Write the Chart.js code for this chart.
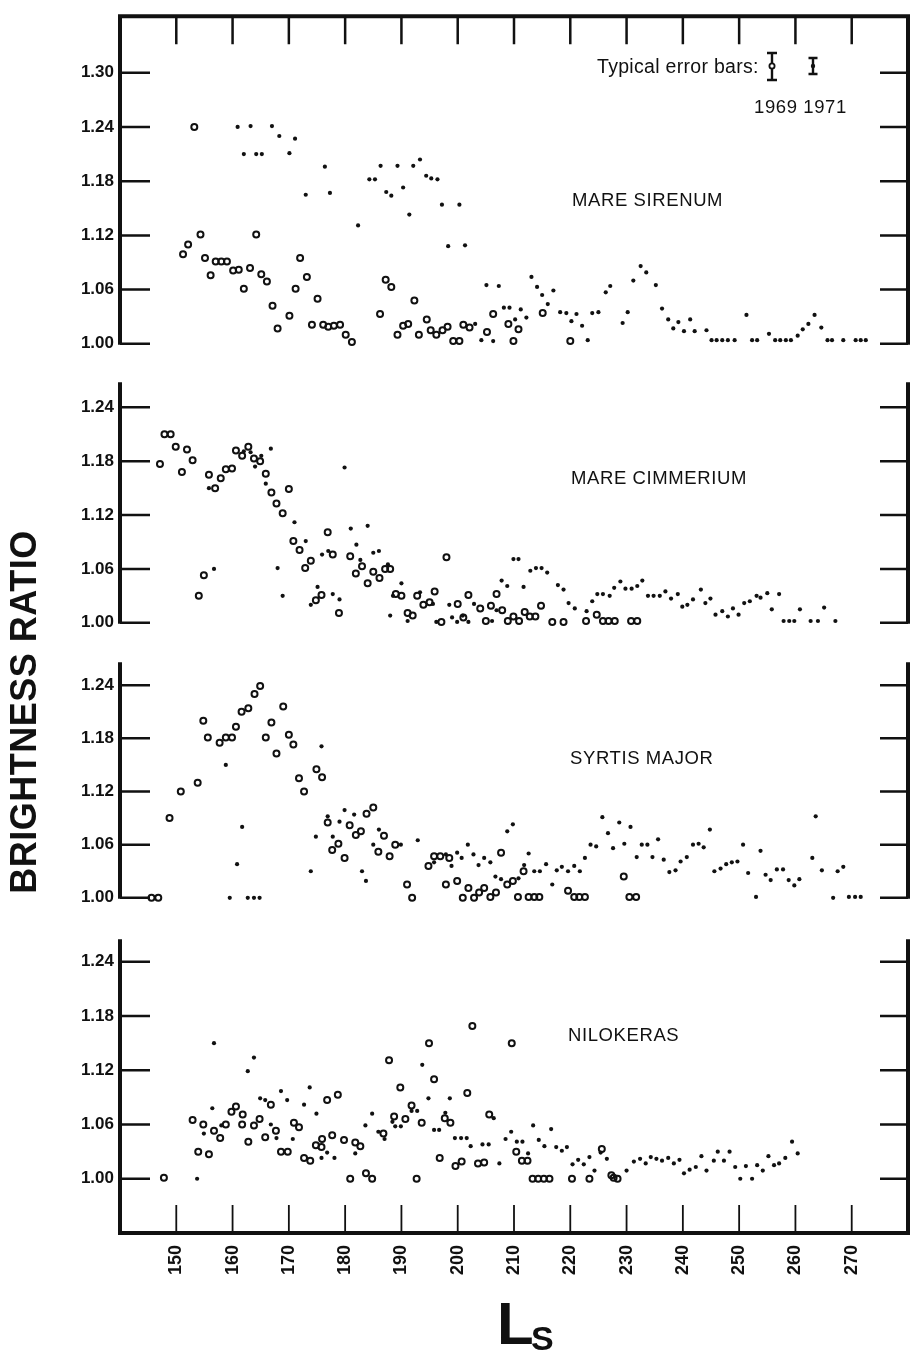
<!DOCTYPE html>
<html>
<head>
<meta charset="utf-8">
<script src="https://cdn.jsdelivr.net/npm/chart.js@4.4.0/dist/chart.umd.min.js"></script>
<style>
  body { margin: 0; background: #fff; }
  #pagina { position: relative; width: 912px; height: 1356px; overflow: hidden; background: #fff;
            font-family: "Liberation Sans", Arial, sans-serif; color: #111; }
  canvas { position: absolute; left: 0; }
  .texto { position: absolute; white-space: nowrap; font-size: 18.5px; line-height: 18px; letter-spacing: 0.6px; }
  .leyenda { font-size: 19.5px; letter-spacing: 0.3px; }
  #ejeY { position: absolute; left: -176px; top: 692px; width: 400px; height: 40px; line-height: 40px;
          text-align: center; font-size: 36px; font-weight: bold; letter-spacing: 0.5px;
          transform: rotate(-90deg); white-space: nowrap; }
  #ls { position: absolute; left: 497px; top: 1294px; font-size: 60px; line-height: 60px; font-weight: bold; }
  #ls span { position: absolute; left: 34px; top: 27px; font-size: 34px; line-height: 34px; }
</style>
</head>
<body>
<div id="pagina">
  <canvas id="sirenum" width="912" height="360" style="top:0px"></canvas>
  <canvas id="cimmerium" width="912" height="273" style="top:366px"></canvas>
  <canvas id="syrtis" width="912" height="268" style="top:646px"></canvas>
  <canvas id="nilokeras" width="912" height="433" style="top:923px"></canvas>

  <div class="texto leyenda" style="left:597px; top:57px;">Typical error bars:</div>
  <div class="texto" style="left:754px; top:98px;">1969 1971</div>
  <div class="texto" style="left:572px; top:191px;">MARE SIRENUM</div>
  <div class="texto" style="left:571px; top:469px;">MARE CIMMERIUM</div>
  <div class="texto" style="left:570px; top:749px;">SYRTIS MAJOR</div>
  <div class="texto" style="left:568px; top:1026px;">NILOKERAS</div>
  <div id="ejeY">BRIGHTNESS RATIO</div>
  <div id="ls">L<span>S</span></div>
</div>

<script>
// Ejes: L_s (grados) y cociente de brillo
const lsTicks = [150, 160, 170, 180, 190, 200, 210, 220, 230, 240, 250, 260, 270];
const ratioTicksTop = [1.00, 1.06, 1.12, 1.18, 1.24, 1.30];
const ratioTicks = [1.00, 1.06, 1.12, 1.18, 1.24];

// MARE SIRENUM  [Ls, ratio]
const sirenum1969 = [
  [151.2,1.099],[152.1,1.110],[153.2,1.240],[154.3,1.121],[155.1,1.095],[156.1,1.076],[157.0,1.091],
  [158.0,1.091],[159.0,1.091],[160.1,1.081],[161.1,1.082],[162.0,1.061],[163.1,1.084],[164.2,1.121],
  [165.1,1.077],[166.1,1.069],[167.1,1.042],[168.0,1.017],[170.1,1.031],[171.2,1.061],[172.0,1.095],
  [173.2,1.074],[174.1,1.021],[175.1,1.050],[176.1,1.021],[177.0,1.019],[178.0,1.020],[179.1,1.021],
  [180.1,1.010],[181.2,1.002],[186.2,1.033],[187.2,1.071],[188.2,1.063],[189.3,1.010],[190.3,1.020],
  [191.2,1.022],[192.3,1.048],[193.1,1.010],[194.5,1.027],[195.2,1.015],[196.2,1.010],[197.3,1.015],
  [198.2,1.019],[199.2,1.003],[200.3,1.003],[201.0,1.021],[202.1,1.018],[205.2,1.013],[206.3,1.033],
  [209.0,1.022],[209.9,1.003],[210.8,1.016],[215.1,1.034],[220.0,1.003]
];
const sirenum1971 = [
  [160.9,1.240],[162.0,1.210],[163.2,1.241],[164.2,1.210],[165.2,1.210],[167.0,1.241],[168.3,1.230],
  [170.1,1.211],[171.1,1.227],[173.0,1.165],[176.4,1.196],[177.3,1.167],[182.3,1.131],[184.3,1.182],
  [185.3,1.182],[186.3,1.197],[187.3,1.168],[188.2,1.164],[189.3,1.197],[190.3,1.173],[191.4,1.143],
  [192.1,1.197],[193.3,1.204],[194.4,1.186],[195.3,1.183],[196.4,1.182],[197.2,1.154],[198.3,1.108],
  [200.3,1.154],[201.3,1.109],[203.1,1.022],[204.2,1.004],[205.1,1.065],[206.3,1.003],[207.3,1.064],
  [208.2,1.040],[209.2,1.040],[210.2,1.027],[211.2,1.038],[212.2,1.029],[213.1,1.074],[214.1,1.063],
  [215.0,1.054],[216.0,1.044],[217.0,1.059],[218.2,1.035],[219.3,1.034],[220.2,1.025],[221.1,1.033],
  [222.1,1.020],[223.1,1.004],[223.9,1.034],[225.0,1.035],[226.3,1.057],[227.1,1.064],[229.3,1.023],
  [230.2,1.035],[231.2,1.070],[232.5,1.086],[233.5,1.079],[235.2,1.065],[236.3,1.039],[237.4,1.027],
  [238.3,1.017],[239.2,1.024],[240.2,1.014],[241.3,1.027],[242.1,1.014],[244.2,1.015],[245.1,1.004],
  [246.0,1.004],[247.0,1.004],[248.0,1.004],[249.2,1.004],[251.3,1.032],[252.3,1.004],[253.2,1.004],
  [255.3,1.011],[256.4,1.004],[257.3,1.004],[258.3,1.004],[259.2,1.004],[260.4,1.009],[261.3,1.016],
  [262.3,1.022],[263.4,1.032],[264.6,1.018],[265.7,1.004],[266.5,1.004],[268.5,1.004],[270.7,1.004],
  [271.6,1.004],[272.5,1.004]
];

// MARE CIMMERIUM
const cimmerium1969 = [
  [147.1,1.177],[147.9,1.210],[149.0,1.210],[149.9,1.196],[151.0,1.168],[151.9,1.193],[152.9,1.181],
  [154.0,1.030],[154.9,1.053],[155.8,1.165],[156.9,1.150],[157.9,1.161],[158.8,1.171],[159.9,1.172],
  [160.6,1.192],[161.7,1.186],[162.8,1.196],[163.8,1.183],[164.9,1.180],[165.9,1.166],[166.9,1.145],
  [167.8,1.133],[168.9,1.122],[170.0,1.149],[170.8,1.091],[171.9,1.081],[172.9,1.061],[173.9,1.069],
  [174.8,1.025],[175.8,1.031],[176.9,1.101],[177.8,1.076],[178.9,1.011],[180.9,1.074],[181.9,1.055],
  [183.0,1.063],[184.0,1.044],[185.0,1.057],[186.1,1.050],[187.1,1.060],[188.0,1.060],[189.0,1.032],
  [190.0,1.030],[191.1,1.011],[192.0,1.008],[192.8,1.030],[193.9,1.020],[195.0,1.023],[195.9,1.035],
  [197.1,1.001],[198.0,1.073],[200.0,1.021],[201.0,1.006],[201.9,1.031],[204.0,1.016],[205.0,1.002],
  [205.9,1.019],[206.9,1.032],[207.9,1.014],[208.9,1.002],[209.9,1.007],[210.9,1.002],[211.9,1.012],
  [212.8,1.007],[213.8,1.007],[214.8,1.019],[216.8,1.001],[218.8,1.001],[222.8,1.002],[224.7,1.009],
  [225.8,1.002],[226.8,1.002],[227.9,1.002],[230.8,1.002],[231.9,1.002]
];
const cimmerium1971 = [
  [155.8,1.150],[156.7,1.060],[162.0,1.191],[163.2,1.190],[164.0,1.174],[165.1,1.186],[165.9,1.155],
  [166.8,1.194],[168.0,1.061],[168.9,1.030],[171.0,1.112],[173.0,1.091],[173.9,1.020],[175.1,1.040],
  [175.9,1.076],[177.0,1.080],[177.8,1.032],[179.0,1.026],[179.9,1.173],[181.0,1.105],[182.0,1.087],
  [182.7,1.070],[184.0,1.108],[185.0,1.078],[186.0,1.080],[187.6,1.065],[188.0,1.008],[188.5,1.030],
  [190.0,1.044],[191.1,1.002],[193.3,1.034],[195.6,1.021],[196.2,1.001],[198.5,1.020],[199.0,1.006],
  [199.9,1.001],[200.9,1.008],[201.9,1.001],[202.9,1.021],[206.1,1.002],[206.9,1.014],[207.8,1.047],
  [208.8,1.041],[209.9,1.071],[210.8,1.071],[211.7,1.040],[212.9,1.058],[213.9,1.061],[214.9,1.061],
  [215.9,1.056],[217.8,1.042],[218.8,1.037],[219.7,1.022],[220.8,1.016],[222.9,1.013],[223.9,1.024],
  [224.8,1.032],[225.8,1.032],[227.0,1.030],[227.8,1.039],[228.9,1.046],[229.8,1.038],[230.9,1.038],
  [231.9,1.041],[232.8,1.047],[233.8,1.030],[234.8,1.030],[235.9,1.030],[236.9,1.035],[237.9,1.027],
  [239.1,1.032],[239.9,1.018],[240.8,1.020],[241.8,1.026],[243.2,1.037],[244.0,1.022],[244.9,1.027],
  [245.8,1.009],[247.0,1.013],[248.0,1.007],[248.9,1.016],[249.9,1.009],[250.9,1.022],[251.9,1.024],
  [253.1,1.030],[253.8,1.028],[255.0,1.033],[255.8,1.015],[257.1,1.032],[257.9,1.002],[258.9,1.002],
  [259.8,1.002],[260.8,1.015],[262.7,1.002],[264.0,1.002],[265.1,1.017],[267.1,1.002]
];

// SYRTIS MAJOR
const syrtis1969 = [
  [145.6,1.000],[146.8,1.000],[148.8,1.090],[150.8,1.120],[153.8,1.130],[154.8,1.200],[155.6,1.181],
  [157.7,1.175],[158.8,1.181],[159.9,1.181],[160.6,1.193],[161.6,1.210],[162.8,1.214],[163.9,1.230],
  [164.9,1.239],[165.9,1.181],[166.9,1.198],[167.8,1.163],[169.0,1.216],[170.0,1.184],[170.8,1.173],
  [171.8,1.135],[172.7,1.120],[174.9,1.145],[175.9,1.136],[176.9,1.085],[177.7,1.054],[178.8,1.061],
  [179.9,1.045],[180.8,1.082],[181.9,1.071],[182.8,1.075],[183.8,1.095],[185.0,1.102],[185.9,1.052],
  [186.9,1.070],[187.9,1.047],[188.9,1.060],[191.0,1.015],[191.9,1.000],[194.8,1.036],[195.8,1.047],
  [196.9,1.047],[197.9,1.015],[198.5,1.045],[199.9,1.019],[200.9,1.000],[201.9,1.011],[202.9,1.000],
  [203.8,1.006],[204.7,1.011],[205.8,1.001],[206.8,1.006],[207.7,1.051],[208.8,1.015],[209.8,1.019],
  [210.7,1.001],[211.7,1.030],[212.6,1.001],[213.6,1.001],[214.5,1.001],[219.6,1.008],[220.7,1.001],
  [221.6,1.001],[222.6,1.001],[229.5,1.024],[230.5,1.001],[231.7,1.001]
];
const syrtis1971 = [
  [158.8,1.150],[159.5,1.000],[160.8,1.038],[161.7,1.080],[162.7,1.000],[163.8,1.000],[164.8,1.000],
  [173.9,1.030],[174.8,1.069],[175.8,1.171],[176.9,1.092],[177.8,1.069],[179.0,1.086],[179.9,1.099],
  [181.6,1.094],[183.0,1.030],[183.7,1.019],[185.0,1.060],[186.0,1.077],[189.9,1.060],[192.9,1.065],
  [195.8,1.040],[197.9,1.049],[198.9,1.036],[199.9,1.051],[200.7,1.045],[201.8,1.060],[202.8,1.049],
  [203.7,1.037],[204.7,1.045],[205.8,1.040],[206.7,1.024],[207.7,1.021],[208.8,1.075],[209.8,1.083],
  [210.8,1.022],[211.8,1.037],[212.6,1.050],[213.6,1.030],[214.6,1.030],[215.7,1.038],[216.8,1.015],
  [217.6,1.031],[218.5,1.035],[219.6,1.030],[220.7,1.036],[221.7,1.030],[222.6,1.045],[223.6,1.060],
  [224.6,1.058],[225.7,1.091],[226.7,1.073],[227.6,1.056],[228.7,1.085],[229.6,1.061],[230.7,1.080],
  [231.8,1.046],[232.7,1.060],[233.7,1.060],[234.6,1.046],[235.6,1.066],[236.6,1.043],[237.6,1.029],
  [238.7,1.031],[239.6,1.041],[240.7,1.046],[241.8,1.060],[242.8,1.061],[243.7,1.057],[244.8,1.077],
  [245.6,1.030],[246.7,1.033],[247.7,1.038],[248.7,1.040],[249.7,1.041],[250.7,1.060],[251.6,1.028],
  [253.0,1.001],[253.8,1.053],[254.7,1.026],[255.6,1.020],[256.7,1.032],[257.8,1.032],[258.8,1.020],
  [259.8,1.014],[260.7,1.021],[263.0,1.045],[263.6,1.092],[264.7,1.031],[266.7,1.000],[267.5,1.030],
  [268.5,1.035],[269.5,1.001],[270.6,1.001],[271.6,1.001]
];

// NILOKERAS
const nilokeras1969 = [
  [147.8,1.001],[152.9,1.065],[153.9,1.030],[154.8,1.060],[155.8,1.027],[156.7,1.053],[157.8,1.045],
  [158.8,1.060],[159.8,1.074],[160.6,1.080],[161.7,1.060],[161.8,1.071],[162.8,1.041],[163.8,1.059],
  [164.8,1.066],[165.8,1.046],[166.8,1.082],[167.7,1.053],[168.6,1.030],[169.8,1.030],[170.9,1.062],
  [171.8,1.057],[172.7,1.023],[173.8,1.020],[174.8,1.037],[175.8,1.035],[175.9,1.044],[176.8,1.087],
  [177.7,1.048],[178.7,1.093],[179.8,1.043],[180.9,1.000],[181.8,1.040],[182.7,1.036],[183.7,1.006],
  [184.8,1.000],[186.8,1.050],[187.8,1.131],[188.7,1.069],[189.8,1.101],[190.7,1.066],[191.8,1.081],
  [192.7,1.000],[193.6,1.062],[194.9,1.150],[195.8,1.110],[196.8,1.023],[197.7,1.067],[198.7,1.062],
  [199.6,1.014],[200.7,1.019],[201.7,1.095],[202.6,1.169],[203.6,1.017],[204.7,1.018],[205.6,1.071],
  [209.6,1.150],[210.4,1.030],[211.4,1.020],[212.4,1.020],[213.3,1.000],[214.3,1.000],[215.3,1.000],
  [216.3,1.000],[220.3,1.000],[223.4,1.000],[225.6,1.033],[227.3,1.004],[227.7,1.001],[228.4,1.000]
];
const nilokeras1971 = [
  [153.7,1.000],[154.9,1.050],[156.4,1.078],[156.7,1.150],[158.0,1.059],[162.7,1.119],[163.8,1.134],
  [164.9,1.089],[165.8,1.087],[166.8,1.060],[167.8,1.045],[168.6,1.097],[169.7,1.087],[170.7,1.044],
  [172.7,1.082],[173.7,1.101],[174.9,1.072],[175.8,1.023],[176.8,1.029],[178.1,1.023],[181.8,1.028],
  [183.6,1.059],[184.8,1.072],[185.9,1.052],[187.0,1.044],[188.4,1.063],[188.9,1.058],[189.9,1.058],
  [191.8,1.075],[192.8,1.075],[193.7,1.126],[194.8,1.089],[195.8,1.054],[196.7,1.054],[197.8,1.073],
  [198.6,1.089],[199.5,1.045],[200.6,1.045],[201.6,1.045],[202.3,1.036],[204.4,1.038],[205.5,1.038],
  [206.4,1.067],[207.4,1.017],[208.5,1.044],[209.5,1.052],[210.5,1.041],[211.5,1.041],[212.5,1.028],
  [213.4,1.059],[214.4,1.043],[215.4,1.036],[216.6,1.055],[217.5,1.035],[218.5,1.031],[219.4,1.035],
  [220.4,1.016],[221.4,1.021],[222.4,1.016],[223.4,1.024],[224.3,1.009],[225.4,1.029],[226.5,1.022],
  [230.0,1.009],[231.3,1.019],[232.4,1.022],[233.4,1.017],[234.3,1.024],[235.3,1.022],[236.3,1.020],
  [237.4,1.023],[238.4,1.017],[239.4,1.021],[240.2,1.006],[241.2,1.010],[242.3,1.013],[243.3,1.025],
  [244.2,1.009],[245.5,1.020],[246.2,1.030],[247.3,1.020],[248.3,1.030],[249.3,1.013],[250.2,1.000],
  [251.2,1.014],[252.3,1.000],[253.2,1.015],[254.2,1.009],[255.2,1.025],[256.2,1.015],[257.1,1.017],
  [258.2,1.023],[259.4,1.041],[260.4,1.028]
];

const INK = '#111';
const FUENTE = '"Liberation Sans", Arial, sans-serif';

// Marco de cada panel: ejes verticales gruesos y marcas hacia dentro
const marcoPlugin = {
  id: 'marco',
  afterDatasetsDraw(chart, args, opts) {
    const { ctx, chartArea: a, scales: { x, y } } = chart;
    ctx.save();
    ctx.strokeStyle = INK;
    ctx.lineCap = 'butt';

    ctx.lineWidth = 4;
    ctx.beginPath();
    ctx.moveTo(a.left, a.top - (opts.arriba ? 2 : 0));
    ctx.lineTo(a.left, a.bottom + (opts.abajo ? 2 : 1));
    ctx.moveTo(a.right, a.top - (opts.arriba ? 2 : 0));
    ctx.lineTo(a.right, a.bottom + (opts.abajo ? 2 : 1));
    if (opts.arriba) { ctx.moveTo(a.left, a.top); ctx.lineTo(a.right, a.top); }
    if (opts.abajo) { ctx.moveTo(a.left, a.bottom); ctx.lineTo(a.right, a.bottom); }
    ctx.stroke();

    ctx.lineWidth = 2.5;
    ctx.beginPath();
    y.ticks.forEach(t => {
      const py = y.getPixelForValue(t.value);
      ctx.moveTo(a.left, py); ctx.lineTo(a.left + 30, py);
      ctx.moveTo(a.right - 28, py); ctx.lineTo(a.right, py);
    });
    if (opts.arriba) {
      lsTicks.forEach(v => {
        const px = x.getPixelForValue(v);
        ctx.moveTo(px, a.top); ctx.lineTo(px, a.top + 28);
      });
    }
    ctx.stroke();

    if (opts.abajo) {
      ctx.lineWidth = 1.8;
      ctx.beginPath();
      lsTicks.forEach(v => {
        const px = x.getPixelForValue(v);
        ctx.moveTo(px, a.bottom); ctx.lineTo(px, a.bottom - 28);
      });
      ctx.stroke();
    }

    // barras de error típicas (leyenda del primer panel)
    if (opts.leyenda) {
      ctx.lineWidth = 2.4;
      ctx.beginPath();
      ctx.moveTo(772, 53); ctx.lineTo(772, 80);
      ctx.moveTo(767, 53); ctx.lineTo(777, 53);
      ctx.moveTo(767, 80); ctx.lineTo(777, 80);
      ctx.moveTo(813, 58); ctx.lineTo(813, 74);
      ctx.moveTo(808.5, 58); ctx.lineTo(817.5, 58);
      ctx.moveTo(808.5, 74); ctx.lineTo(817.5, 74);
      ctx.stroke();
      ctx.fillStyle = '#fff';
      ctx.lineWidth = 1.8;
      ctx.beginPath(); ctx.arc(772, 66, 2.6, 0, Math.PI * 2); ctx.fill(); ctx.stroke();
      ctx.fillStyle = INK;
      ctx.beginPath(); ctx.arc(813, 66, 2.2, 0, Math.PI * 2); ctx.fill();
    }
    ctx.restore();
  }
};

function crearPanel(id, datos69, datos71, rangoY, ticksY, marco, conEjeX) {
  const ctx = document.getElementById(id).getContext('2d');
  const ejeX = conEjeX ? {
    type: 'linear', position: 'bottom', min: 140, max: 280,
    afterBuildTicks: a => { a.ticks = lsTicks.map(v => ({ value: v })); },
    afterFit: s => { s.height = 123; },
    grid: { display: false, drawTicks: false },
    border: { display: false },
    ticks: {
      autoSkip: false, minRotation: 90, maxRotation: 90, padding: 12, color: INK,
      font: { family: FUENTE, size: 18, weight: 'bold' },
      callback: v => String(v)
    }
  } : { type: 'linear', display: false, min: 140, max: 280 };

  return new Chart(ctx, {
    type: 'scatter',
    data: {
      datasets: [
        {
          label: '1969',
          data: datos69.map(p => ({ x: p[0], y: p[1] })),
          pointStyle: 'circle', pointRadius: 3, pointBorderWidth: 2,
          pointBorderColor: INK, pointBackgroundColor: 'rgba(0,0,0,0)',
          clip: false
        },
        {
          label: '1971',
          data: datos71.map(p => ({ x: p[0], y: p[1] })),
          pointStyle: 'circle', pointRadius: 2.1, pointBorderWidth: 0,
          pointBorderColor: INK, pointBackgroundColor: INK,
          clip: false
        }
      ]
    },
    options: {
      responsive: false,
      animation: false,
      events: [],
      layout: { autoPadding: false, padding: { left: 0, right: 4, top: 12, bottom: conEjeX ? 0 : 12 } },
      plugins: { legend: { display: false }, tooltip: { enabled: false }, marco: marco },
      scales: {
        x: ejeX,
        y: {
          type: 'linear', min: rangoY[0], max: rangoY[1],
          afterBuildTicks: a => { a.ticks = ticksY.map(v => ({ value: v })); },
          afterFit: s => { s.width = 120; },
          grid: { display: false, drawTicks: false },
          border: { display: false },
          ticks: {
            padding: 6, color: INK,
            font: { family: FUENTE, size: 17, weight: 'bold' },
            callback: v => Number(v).toFixed(2)
          }
        }
      }
    },
    plugins: [marcoPlugin]
  });
}

crearPanel('sirenum', sirenum1969, sirenum1971, [1.00, 1.3626], ratioTicksTop, { arriba: true, leyenda: true }, false);
crearPanel('cimmerium', cimmerium1969, cimmerium1971, [1.00, 1.268], ratioTicks, {}, false);
crearPanel('syrtis', syrtis1969, syrtis1971, [1.00, 1.266], ratioTicks, {}, false);
crearPanel('nilokeras', nilokeras1969, nilokeras1971, [0.94, 1.265], ratioTicks, { abajo: true }, true);
</script>
</body>
</html>
